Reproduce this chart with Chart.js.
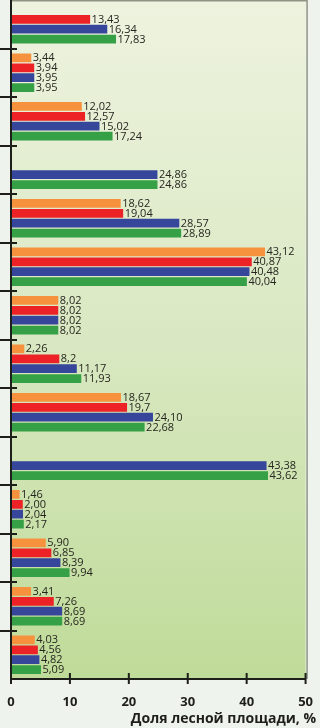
<!DOCTYPE html>
<html lang="ru">
<head>
    <meta charset="UTF-8">
    <title>Доля лесной площади</title>
    <script src="https://cdn.jsdelivr.net/npm/chart.js"></script>
    <style>
        html, body { margin: 0; padding: 0; background: #eff3ee; }
        #wrap { width: 320px; height: 728px; }
    </style>
</head>
<body>
    <div id="wrap"><canvas id="forest-chart" width="320" height="728"></canvas></div>
    <script>
        // группы (подписей категорий на картинке нет)
        const categories = ['1', '2', '3', '4', '5', '6', '7', '8', '9', '10', '11', '12', '13', '14'];

        // значения храним строками, чтобы подпись была как в оригинале (8,2 / 24,10)
        const seriesOrange = [null, '3.44', '12.02', null, '18.62', '43.12', '8.02', '2.26', '18.67', null, '1.46', '5.90', '3.41', '4.03'];
        const seriesRed = ['13.43', '3.94', '12.57', null, '19.04', '40.87', '8.02', '8.2', '19.7', null, '2.00', '6.85', '7.26', '4.56'];
        const seriesBlue = ['16.34', '3.95', '15.02', '24.86', '28.57', '40.48', '8.02', '11.17', '24.10', '43.38', '2.04', '8.39', '8.69', '4.82'];
        const seriesGreen = ['17.83', '3.95', '17.24', '24.86', '28.89', '40.04', '8.02', '11.93', '22.68', '43.62', '2.17', '9.94', '8.69', '5.09'];

        const xTicks = [0, 10, 20, 30, 40, 50];
        const xTitle = 'Доля лесной площади, %';

        const ink = '#1e1e1a';

        // фон: градиент в области графика + рамка
        const bgPlugin = {
            id: 'bg',
            beforeDraw(chart) {
                const { ctx, chartArea: a } = chart;
                ctx.save();
                ctx.fillStyle = '#eff3ee';
                ctx.fillRect(0, 0, chart.width, chart.height);
                const g = ctx.createLinearGradient(0, a.top, 0, a.bottom);
                g.addColorStop(0, '#eef3df');
                g.addColorStop(0.5, '#d9e8c2');
                g.addColorStop(1, '#bfdb99');
                ctx.fillStyle = g;
                ctx.fillRect(a.left, a.top, a.right - a.left, a.bottom - a.top);
                ctx.strokeStyle = '#8f9585';
                ctx.lineWidth = 1.5;
                ctx.beginPath();
                ctx.moveTo(a.left, a.top + 0.75);
                ctx.lineTo(a.right + 2, a.top + 0.75);
                ctx.moveTo(a.right + 1.5, a.top);
                ctx.lineTo(a.right + 1.5, a.bottom);
                ctx.stroke();
                ctx.restore();
            }
        };

        // подписи значений у концов столбиков
        const valuePlugin = {
            id: 'values',
            afterDatasetsDraw(chart) {
                const { ctx } = chart;
                ctx.save();
                ctx.font = '11px "Open Sans"';
                ctx.fillStyle = '#26261f';
                ctx.textAlign = 'left';
                ctx.textBaseline = 'middle';
                chart.data.datasets.forEach((ds, i) => {
                    const meta = chart.getDatasetMeta(i);
                    meta.data.forEach((bar, j) => {
                        const raw = ds.data[j];
                        if (raw === null) return;
                        ctx.fillText(String(raw).replace('.', ','), bar.x + 1.5, bar.y + 0.5);
                    });
                });
                ctx.restore();
            }
        };

        // оси с засечками поперёк линии, подпись оси X
        const axisPlugin = {
            id: 'axes',
            afterDraw(chart) {
                const { ctx, chartArea: a, scales } = chart;
                ctx.save();
                ctx.strokeStyle = ink;
                ctx.lineWidth = 2;
                ctx.beginPath();
                ctx.moveTo(a.left, a.top);
                ctx.lineTo(a.left, a.bottom + 1);
                ctx.moveTo(a.left - 1, a.bottom);
                ctx.lineTo(a.right + 1, a.bottom);
                // засечки между группами
                for (let i = 1; i < categories.length; i++) {
                    const y = Math.round((scales.y.getPixelForValue(i - 1) + scales.y.getPixelForValue(i)) / 2);
                    ctx.moveTo(0, y);
                    ctx.lineTo(a.left + 6, y);
                }
                xTicks.forEach(v => {
                    const x = scales.x.getPixelForValue(v);
                    ctx.moveTo(x, a.bottom - 6);
                    ctx.lineTo(x, a.bottom + 5);
                });
                ctx.stroke();

                ctx.fillStyle = ink;
                ctx.font = 'bold 14px "Open Sans"';
                ctx.textAlign = 'right';
                ctx.textBaseline = 'middle';
                ctx.fillText(xTitle, 316, 719);
                ctx.restore();
            }
        };

        const ctx = document.getElementById('forest-chart').getContext('2d');
        new Chart(ctx, {
            type: 'bar',
            data: {
                labels: categories,
                datasets: [
                    { label: 'orange', data: seriesOrange, backgroundColor: '#f6923e' },
                    { label: 'red', data: seriesRed, backgroundColor: '#ec2227' },
                    { label: 'blue', data: seriesBlue, backgroundColor: '#36479b' },
                    { label: 'green', data: seriesGreen, backgroundColor: '#36a046' }
                ]
            },
            options: {
                indexAxis: 'y',
                responsive: false,
                animation: false,
                categoryPercentage: 0.82,
                barPercentage: 0.88,
                layout: { padding: { left: 0, right: 9, top: 0, bottom: 0 } },
                plugins: {
                    legend: { display: false },
                    tooltip: { enabled: false }
                },
                scales: {
                    x: {
                        type: 'linear',
                        min: 0,
                        max: 50,
                        afterBuildTicks(s) { s.ticks = xTicks.map(v => ({ value: v })); },
                        afterFit(s) { s.height = 49; },
                        grid: { display: false },
                        border: { display: false },
                        ticks: {
                            color: ink,
                            font: { family: 'Open Sans', size: 13, weight: 'bold' },
                            padding: 7,
                            maxRotation: 0
                        }
                    },
                    y: {
                        type: 'category',
                        afterFit(s) { s.width = 11; },
                        grid: { display: false },
                        border: { display: false },
                        ticks: { display: false }
                    }
                }
            },
            plugins: [bgPlugin, valuePlugin, axisPlugin]
        });
    </script>
</body>
</html>
